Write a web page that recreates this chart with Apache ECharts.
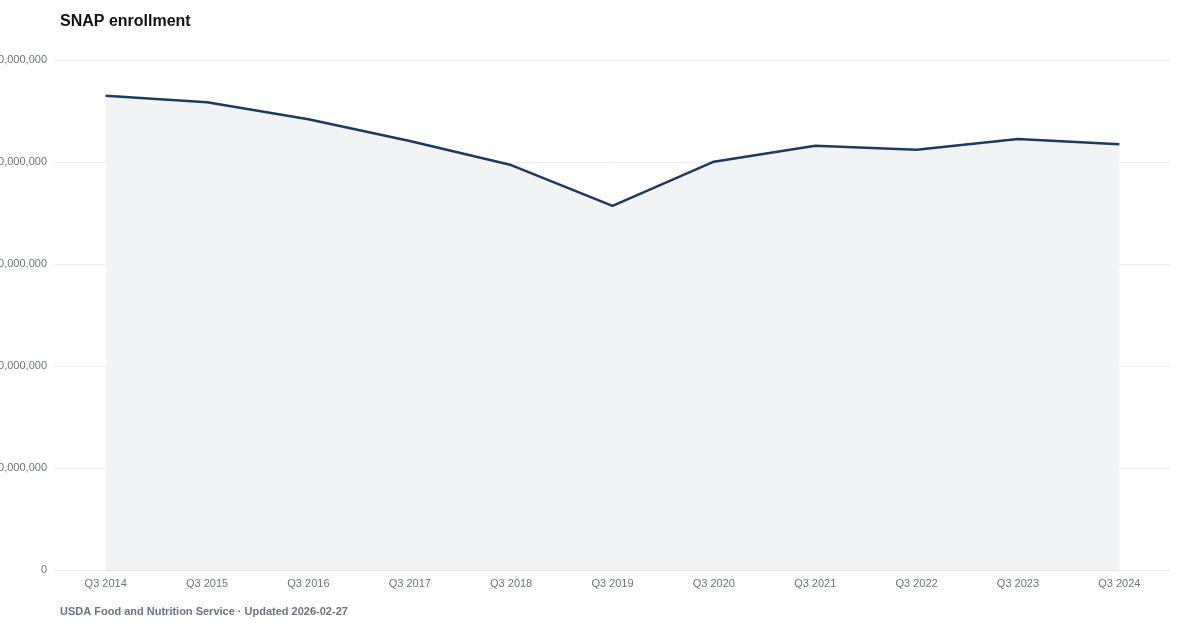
<!DOCTYPE html>
<html>
<head>
<meta charset="utf-8">
<script src="https://cdn.jsdelivr.net/npm/echarts@6/dist/echarts.min.js"></script>
<style>
html,body{margin:0;padding:0;background:#fff;}
#c{width:1200px;height:630px;}
</style>
</head>
<body>
<div id="c"></div>
<script>
const categories = ["Q3 2014","Q3 2015","Q3 2016","Q3 2017","Q3 2018","Q3 2019","Q3 2020","Q3 2021","Q3 2022","Q3 2023","Q3 2024"];
const enrollment = [46500000,45850000,44200000,42060000,39700000,35700000,40030000,41600000,41200000,42250000,41740000];
const yTicks = [0,10000000,20000000,30000000,40000000,50000000];

const chart = echarts.init(document.getElementById('c'), null, {renderer:'canvas'});
chart.setOption({
  backgroundColor:'#ffffff',
  animation:false,
  title:[
    {text:'SNAP enrollment', left:55, top:9, textStyle:{fontFamily:'Liberation Sans, Arial, sans-serif', fontSize:16, fontWeight:'bold', color:'#111111'}},
    {text:'USDA Food and Nutrition Service · Updated 2026-02-27', left:55, top:601, textStyle:{fontFamily:'Liberation Sans, Arial, sans-serif', fontSize:11, fontWeight:'bold', color:'#6b7280'}}
  ],
  grid:{left:55, right:30, top:60, bottom:60, containLabel:false, outerBoundsMode:'none'},
  xAxis:{
    type:'category', data:categories, boundaryGap:true,
    axisLine:{show:true, lineStyle:{color:'#e5e7eb'}},
    axisTick:{show:false},
    axisLabel:{color:'#6b7280', fontSize:11, fontFamily:'Liberation Sans, Arial, sans-serif', margin:8}
  },
  yAxis:{
    type:'value', min:yTicks[0], max:yTicks[yTicks.length-1], interval:10000000,
    axisLine:{show:false}, axisTick:{show:false},
    splitLine:{lineStyle:{color:'#eeeeee'}},
    axisLabel:{color:'#6b7280', fontSize:11, fontFamily:'Liberation Sans, Arial, sans-serif', margin:8,
      formatter:v=>v.toLocaleString('en-US')}
  },
  series:[{
    type:'line', data:enrollment, symbol:'none', smooth:false,
    lineStyle:{color:'#1e3a5f', width:2.5},
    areaStyle:{color:'#f1f3f5', opacity:1}
  }]
});
</script>
</body>
</html>
